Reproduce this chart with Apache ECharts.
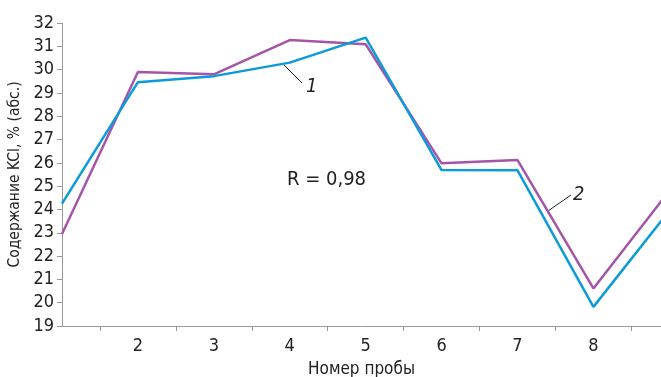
<!DOCTYPE html>
<html>
<head>
<meta charset="utf-8">
<script src="https://cdn.jsdelivr.net/npm/echarts@6/dist/echarts.min.js"></script>
<style>
html,body{margin:0;padding:0;background:#fff;}
#container1{width:661px;height:377px;}
</style>
</head>
<body>
<div id="container1"></div>
<script>
// номер пробы
var samples = [1, 2, 3, 4, 5, 6, 7, 8, 9];
var xLabels = [2, 3, 4, 5, 6, 7, 8];
// кривая 1 (синяя) и 2 (фиолетовая)
var line1 = [24.25, 29.46, 29.72, 30.30, 31.37, 25.69, 25.68, 19.82, 23.95];
var line2 = [22.95, 29.90, 29.80, 31.27, 31.09, 25.98, 26.12, 20.61, 24.80];

var font = '"Liberation Sans Narrow", "DejaVu Sans Condensed", "Liberation Sans", sans-serif';

function pairs(xs, ys) {
	var out = [];
	for (var i = 0; i < xs.length; i++) {
		out.push([xs[i], ys[i]]);
	}
	return out;
}

window.onload = function () {
	var dom = document.getElementById("container1");
	var myChart = echarts.init(dom);
	var tickVals = xLabels.map(function (v) { return v - 0.5; });
	tickVals.push(8.5);

	var option = {
		animation: false,
		grid: {
			left: 62,
			right: 0,
			top: 23,
			bottom: 51,
			containLabel: false,
			outerBoundsMode: 'none'
		},
		xAxis: {
			type: 'value',
			min: 1,
			max: 8.89,
			name: 'Номер пробы',
			nameLocation: 'middle',
			nameGap: 35,
			nameTextStyle: {
				color: '#222',
				fontSize: 17,
				fontFamily: font
			},
			splitLine: { show: false },
			axisLine: {
				lineStyle: { color: '#999', width: 1 }
			},
			axisTick: {
				show: true,
				length: 5,
				customValues: tickVals,
				lineStyle: { color: '#999' }
			},
			axisLabel: {
				customValues: xLabels,
				margin: 11,
				color: '#222',
				fontSize: 18,
				fontFamily: font
			}
		},
		yAxis: {
			type: 'value',
			min: 19,
			max: 32,
			interval: 1,
			name: 'Содержание KCl, % (абс.)',
			nameLocation: 'middle',
			nameGap: 35,
			nameTextStyle: {
				color: '#222',
				fontSize: 15.5,
				fontFamily: font
			},
			splitLine: { show: false },
			axisLine: {
				show: true,
				lineStyle: { color: '#999', width: 1 }
			},
			axisTick: {
				show: true,
				length: 5,
				lineStyle: { color: '#999' }
			},
			axisLabel: {
				margin: 8,
				color: '#222',
				fontSize: 18,
				fontFamily: font
			}
		},
		series: [
			//линия 1
			{
				name: '1',
				type: 'line',
				data: pairs(samples, line1),
				symbol: 'none',
				clip: true,
				z: 3,
				lineStyle: { color: '#0b9bd9', width: 2.5 }
			},
			//линия 2
			{
				name: '2',
				type: 'line',
				data: pairs(samples, line2),
				symbol: 'none',
				clip: true,
				z: 2,
				lineStyle: { color: '#a455a8', width: 2.5 }
			}
		],
		graphic: [
			{
				type: 'line',
				shape: { x1: 282, y1: 63, x2: 302, y2: 83 },
				style: { stroke: '#222', lineWidth: 1 }
			},
			{
				type: 'text',
				left: 306,
				top: 77,
				style: {
					text: '1',
					font: 'italic 20px ' + font,
					fill: '#222'
				}
			},
			{
				type: 'line',
				shape: { x1: 548, y1: 211, x2: 571, y2: 195 },
				style: { stroke: '#222', lineWidth: 1 }
			},
			{
				type: 'text',
				left: 573,
				top: 185,
				style: {
					text: '2',
					font: 'italic 20px ' + font,
					fill: '#222'
				}
			},
			{
				type: 'text',
				left: 287,
				top: 170,
				style: {
					text: 'R = 0,98',
					font: '20px ' + font,
					fill: '#222'
				}
			}
		]
	};

	myChart.setOption(option, true);
};
</script>
</body>
</html>
